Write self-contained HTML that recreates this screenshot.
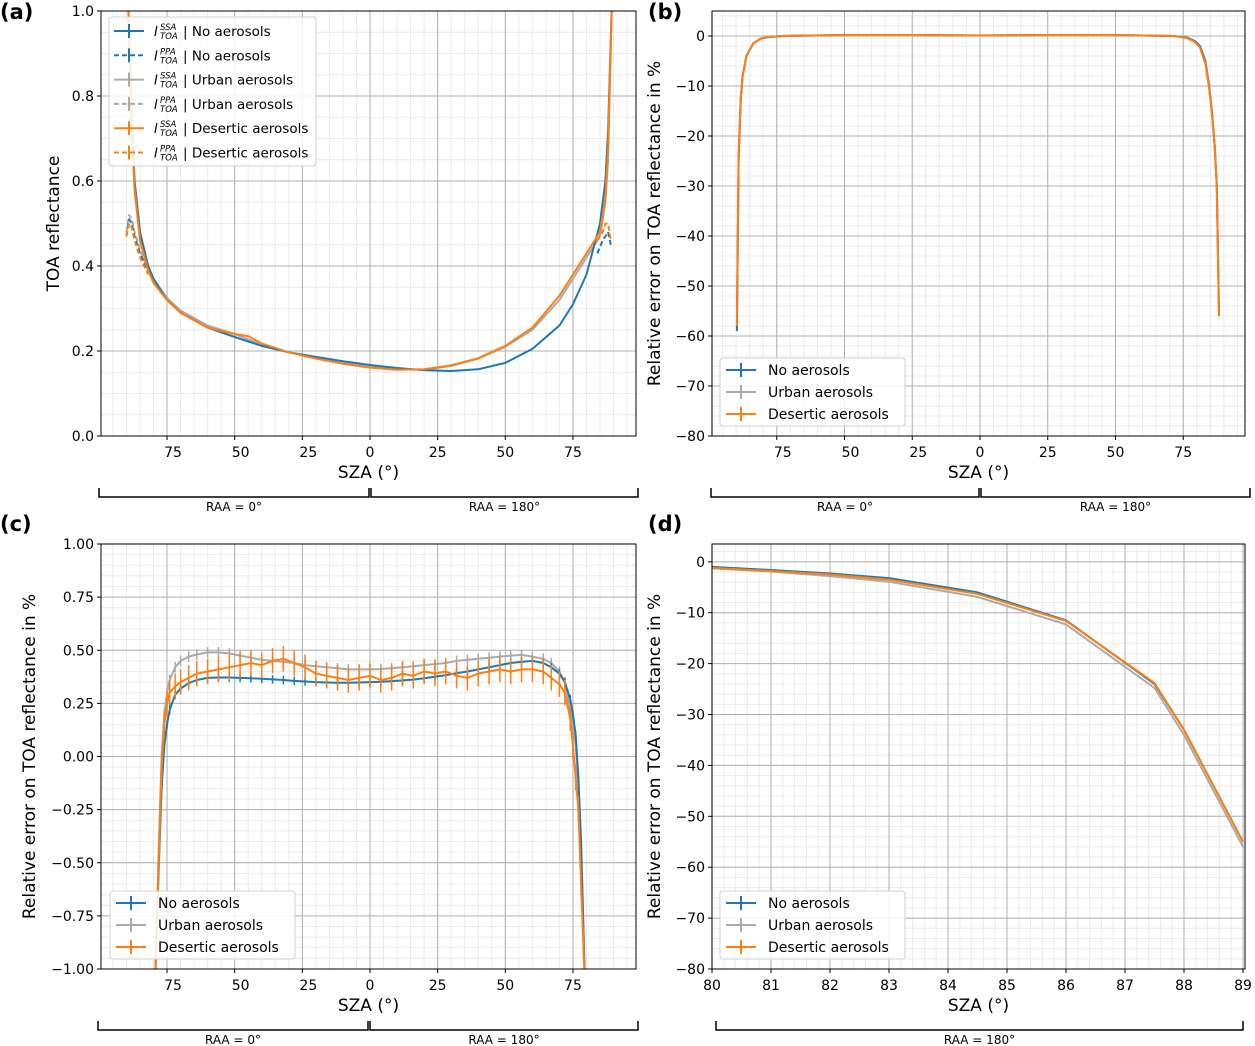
<!DOCTYPE html>
<html><head><meta charset="utf-8"><style>
html,body{margin:0;padding:0;background:#fff;}
svg{display:block;font-family:"DejaVu Sans","Liberation Sans",sans-serif;}
</style></head><body>
<svg id="fig" width="1255" height="1046" viewBox="0 0 1255 1046" xmlns="http://www.w3.org/2000/svg"></svg>
<script>
// ---------- data ----------
const aNoSsaX = [-89.5,-88,-87,-85,-82,-80,-75,-70,-60,-50,-40,-30,-20,-10,0,10,20,30,40,50,60,70,75,80,85,87,88,89.5];
const aNoSsaY = [1.05,0.75,0.6,0.48,0.4,0.37,0.32,0.29,0.255,0.233,0.212,0.197,0.186,0.176,0.167,0.16,0.155,0.153,0.157,0.172,0.205,0.26,0.31,0.38,0.5,0.6,0.72,1.05];
const aUrbSsaX = [-89.5,-88,-87,-85,-82,-80,-75,-70,-60,-50,-40,-30,-20,-10,0,10,20,30,40,50,60,70,75,80,85,87,88,89.5];
const aUrbSsaY = [1.05,0.72,0.58,0.47,0.4,0.37,0.325,0.295,0.26,0.24,0.215,0.197,0.183,0.171,0.162,0.157,0.156,0.165,0.182,0.21,0.25,0.32,0.37,0.42,0.47,0.55,0.65,1.05];
const aDesSsaX = [-89.5,-88,-87,-85,-82,-80,-75,-70,-60,-50,-45,-40,-30,-20,-10,0,10,20,30,40,50,60,70,75,80,85,87,88,89.5];
const aDesSsaY = [1.05,0.72,0.58,0.46,0.39,0.36,0.32,0.29,0.255,0.24,0.235,0.218,0.197,0.182,0.17,0.161,0.156,0.157,0.166,0.183,0.212,0.255,0.33,0.38,0.43,0.48,0.56,0.68,1.05];
const aNoPpaX = [-90,-89,-88,-87,-85,-82];
const aNoPpaY = [0.47,0.51,0.5,0.47,0.43,0.39];
const aNoPpaRX = [84,86,87,88,89];
const aNoPpaRY = [0.43,0.46,0.47,0.48,0.45];
const aUrbPpaX = [-90,-89,-88,-87,-85,-82];
const aUrbPpaY = [0.48,0.52,0.51,0.48,0.44,0.39];
const aDesPpaX = [-90,-89,-88,-87,-85,-82];
const aDesPpaY = [0.47,0.5,0.49,0.46,0.42,0.38];
const aDesPpaRX = [84,86,87,88,89];
const aDesPpaRY = [0.46,0.48,0.5,0.5,0.46];
// Panel (b)
const bX = [-89.7,-89.1,-88.3,-87.6,-86.2,-83.7,-80.8,-78,-73.1,-49.3,-25.2,-0.7,23.4,47.5,71.6,76.4,79.3,81.2,83.2,84.6,85.6,86.6,87.4,88.2];
const bNoY = [-59,-25,-13,-8,-4,-1.5,-0.5,-0.2,0,0.2,0.2,0.1,0.2,0.2,0,-0.3,-1,-2,-5,-10,-15,-22,-30,-56];
const bUrbY = [-58,-24,-12.5,-8,-4,-1.5,-0.5,-0.2,0,0.2,0.2,0.1,0.2,0.2,0,-0.4,-1.2,-2.3,-5.5,-10.5,-15.5,-22,-30,-56];
const bDesY = [-58,-24,-12.5,-8,-4,-1.5,-0.5,-0.2,0,0.2,0.2,0.1,0.2,0.2,0,-0.4,-1.2,-2.3,-5.5,-10.5,-15.5,-22,-30,-56];
// Panel (c)
const cX = [-79.5,-78,-77,-76,-75,-74,-72,-70,-67,-64,-60,-56,-52,-48,-44,-40,-36,-32,-28,-24,-20,-16,-12,-8,-4,0,4,8,12,16,20,24,28,32,36,40,44,48,52,56,60,64,67,70,72,74,75,76,77,78,79.5];
const cNoY = [-1.1,-0.5,-0.15,0.05,0.15,0.22,0.29,0.32,0.345,0.36,0.37,0.372,0.372,0.37,0.368,0.366,0.363,0.36,0.356,0.353,0.35,0.348,0.347,0.347,0.348,0.35,0.352,0.355,0.358,0.362,0.368,0.375,0.383,0.392,0.4,0.41,0.42,0.43,0.44,0.445,0.45,0.44,0.42,0.39,0.35,0.27,0.2,0.1,-0.1,-0.4,-1.1];
const cUrbY = [-1.1,-0.4,0.0,0.2,0.3,0.36,0.42,0.45,0.47,0.48,0.49,0.49,0.485,0.475,0.465,0.455,0.45,0.445,0.44,0.43,0.425,0.42,0.415,0.41,0.41,0.41,0.412,0.415,0.42,0.425,0.43,0.435,0.44,0.45,0.455,0.46,0.465,0.47,0.475,0.478,0.47,0.46,0.44,0.4,0.35,0.22,0.15,0.05,-0.15,-0.45,-1.1];
const cDesY = [-1.1,-0.45,-0.05,0.15,0.25,0.3,0.33,0.35,0.37,0.39,0.4,0.41,0.42,0.43,0.44,0.43,0.45,0.46,0.44,0.42,0.39,0.38,0.37,0.36,0.37,0.38,0.36,0.37,0.39,0.38,0.4,0.39,0.4,0.38,0.37,0.39,0.4,0.41,0.4,0.41,0.41,0.4,0.37,0.34,0.3,0.18,0.05,-0.1,-0.25,-0.6,-1.1];
const cNoErr = 0.02, cUrbErr = 0.025, cDesErr = 0.06;
// Panel (d)
const dX = [80,81,82,83,84.5,86,87.5,88,89];
const dNoY = [-1,-1.6,-2.3,-3.2,-6,-11.5,-24,-33,-55];
const dUrbY = [-1.3,-1.9,-2.8,-3.9,-6.9,-12.3,-24.8,-34,-56];
const dDesY = [-1.2,-1.8,-2.5,-3.5,-6.3,-11.6,-23.8,-33,-55];
// Ticks
const xTicksSym = [-75,-50,-25,0,25,50,75];
const aYTicks = [0,0.2,0.4,0.6,0.8,1.0];
const bYTicks = [0,-10,-20,-30,-40,-50,-60,-70,-80];
const cYTicks = [1,0.75,0.5,0.25,0,-0.25,-0.5,-0.75,-1];
const dXTicks = [80,81,82,83,84,85,86,87,88,89];
const legendNames = ["No aerosols","Urban aerosols","Desertic aerosols"];

// ---------- drawing ----------
const NS="http://www.w3.org/2000/svg", svg=document.getElementById('fig');
const BLUE="#1f77b4", GRAY="#aaaaaa", ORANGE="#ff7f0e";
function el(tag,attrs,parent){const e=document.createElementNS(NS,tag);for(const k in attrs)e.setAttribute(k,attrs[k]);(parent||svg).appendChild(e);return e;}
function txt(s,x,y,size,anchor,parent,extra){const t=el('text',Object.assign({x:x,y:y,'font-size':size,'text-anchor':anchor||'start',fill:'#000'},extra||{}),parent);t.textContent=s;return t;}
let clipId=0;
function makeAxes(name,L,R,T,B,xmin,xmax,ymin,ymax){
  const g=el('g',{});
  
  
  const sx=v=>L+(v-xmin)/(xmax-xmin)*(R-L), sy=v=>B-(v-ymin)/(ymax-ymin)*(B-T);
  const id='clip'+(clipId++);
  const cp=el('clipPath',{id:id},g); el('rect',{x:L,y:T,width:R-L,height:B-T},cp);
  const grid=el('g',{'clip-path':'url(#'+id+')'},g);
  const plot=el('g',{'clip-path':'url(#'+id+')'},g);
  return {g,sx,sy,L,R,T,B,grid,plot,xmin,xmax,ymin,ymax};
}
function grids(ax,xMinor,xMajor,yMinor,yMajor){
  for(let v=Math.ceil(ax.xmin/xMinor)*xMinor;v<=ax.xmax;v+=xMinor){el('line',{x1:ax.sx(v),x2:ax.sx(v),y1:ax.T,y2:ax.B,stroke:'#ebebeb','stroke-width':1},ax.grid);}
  for(let v=Math.ceil(ax.ymin/yMinor)*yMinor;v<=ax.ymax+1e-9;v+=yMinor){el('line',{y1:ax.sy(v),y2:ax.sy(v),x1:ax.L,x2:ax.R,stroke:'#ebebeb','stroke-width':1},ax.grid);}
  xMajor.forEach(v=>el('line',{x1:ax.sx(v),x2:ax.sx(v),y1:ax.T,y2:ax.B,stroke:'#b0b0b0','stroke-width':1},ax.grid));
  yMajor.forEach(v=>el('line',{y1:ax.sy(v),y2:ax.sy(v),x1:ax.L,x2:ax.R,stroke:'#b0b0b0','stroke-width':1},ax.grid));
}
function frame(ax){el('rect',{x:ax.L,y:ax.T,width:ax.R-ax.L,height:ax.B-ax.T,fill:'none',stroke:'#000','stroke-width':1},ax.g);}
function xticks(ax,vals,labels,negShift){vals.forEach((v,i)=>{const x=ax.sx(v);el('line',{x1:x,x2:x,y1:ax.B,y2:ax.B+4,stroke:'#000'},ax.g);const t=txt(labels[i],x+(negShift&&v<0?6:0),ax.B+21,14,'middle',ax.g);
  
  });}
function yticks(ax,vals,labels){vals.forEach((v,i)=>{const y=ax.sy(v);el('line',{x1:ax.L-4,x2:ax.L,y1:y,y2:y,stroke:'#000'},ax.g);const t=txt(labels[i],ax.L-7,y+5,14,'end',ax.g);
  
  });}
function line(ax,xs,ys,color,dash,name,w){const d=xs.map((x,i)=>(i?'L':'M')+ax.sx(x).toFixed(1)+','+ax.sy(ys[i]).toFixed(1)).join('');const p=el('path',{d:d,fill:'none',stroke:color,'stroke-width':w||2,'stroke-dasharray':dash||'none','stroke-linejoin':'round'},ax.plot);
  
  return p;}
function errbars(ax,xs,ys,err,color,name){xs.forEach((x,i)=>{const l=el('line',{x1:ax.sx(x),x2:ax.sx(x),y1:ax.sy(ys[i]-err),y2:ax.sy(ys[i]+err),stroke:color,'stroke-width':1.5},ax.plot);
  
  });}
function xlabel(ax,s){const t=txt(s,(ax.L+ax.R)/2,ax.B+42,17,'middle',ax.g);
  
  }
function ylabel(ax,s,x){const t=txt(s,0,0,17,'middle',ax.g,{transform:'translate('+x+','+((ax.T+ax.B)/2)+') rotate(-90)'});
  
  }
function panelLabel(s,x,y){const t=txt(s,x,y,21,'start',svg,{'font-weight':'bold'});
  
  }
function bracket(x1,x2,y,label,name){const g=el('g',{});
  
  
  el('path',{d:'M'+x1+','+(y-9)+'L'+x1+','+y+'L'+x2+','+y+'L'+x2+','+(y-9),fill:'none',stroke:'#000','stroke-width':1.5},g);
  txt(label,(x1+x2)/2,y+14,12,'middle',g);}
function simpleLegend(x,y,name){const g=el('g',{});
  
  
  el('rect',{x:x,y:y,width:185,height:68,rx:3,fill:'#fff','fill-opacity':0.85,stroke:'#d0d0d0'},g);
  [BLUE,GRAY,ORANGE].forEach((c,i)=>{const yy=y+12+i*22;const e=el('g',{},g);
    
    
    el('line',{x1:x+6,x2:x+36,y1:yy,y2:yy,stroke:c,'stroke-width':2},e);
    el('line',{x1:x+21,x2:x+21,y1:yy-7,y2:yy+7,stroke:c,'stroke-width':2},e);
    txt(legendNames[i],x+48,yy+5,14,'start',e);});}
const absLabels=xTicksSym.map(v=>String(Math.abs(v)));

// ---- Panel (a)
const A=makeAxes('panel-a-toa-reflectance',101,636,11,436,-99.4,98.3,0,1.0);
grids(A,5,xTicksSym,0.05,aYTicks);
line(A,aUrbSsaX,aUrbSsaY,GRAY,null,'urban-ssa-line');
line(A,aUrbPpaX,aUrbPpaY,GRAY,'5,3','urban-ppa-line');
line(A,aNoSsaX,aNoSsaY,BLUE,null,'no-aerosol-ssa-line');
line(A,aNoPpaX,aNoPpaY,BLUE,'5,3','no-aerosol-ppa-line');
line(A,aNoPpaRX,aNoPpaRY,BLUE,'5,3','no-aerosol-ppa-line-right');
line(A,aDesSsaX,aDesSsaY,ORANGE,null,'desertic-ssa-line');
line(A,aDesPpaX,aDesPpaY,ORANGE,'5,3','desertic-ppa-line');
line(A,aDesPpaRX,aDesPpaRY,ORANGE,'5,3','desertic-ppa-line-right');
frame(A);xticks(A,xTicksSym,absLabels,true);yticks(A,aYTicks,aYTicks.map(v=>v.toFixed(1)));
xlabel(A,'SZA (°)');ylabel(A,'TOA reflectance',59);
(function(){const x=109,y=17;const g=el('g',{});
  
  
  el('rect',{x:x,y:y,width:207,height:149,rx:3,fill:'#fff','fill-opacity':0.85,stroke:'#d0d0d0'},g);
  const cols=[BLUE,BLUE,GRAY,GRAY,ORANGE,ORANGE],sup=['SSA','PPA'],nm=[0,0,1,1,2,2];
  for(let i=0;i<6;i++){const yy=y+14+i*24.3;const e=el('g',{},g);
    
    
    el('line',{x1:x+5,x2:x+35,y1:yy,y2:yy,stroke:cols[i],'stroke-width':2,'stroke-dasharray':i%2?'5,3':'none'},e);
    el('line',{x1:x+20,x2:x+20,y1:yy-7,y2:yy+7,stroke:cols[i],'stroke-width':2},e);
    txt('I',x+45,yy+5,13,'start',e,{'font-style':'italic'});
    txt(sup[i%2],x+51,yy-1,8.5,'start',e,{'font-style':'italic'});
    txt('TOA',x+51,yy+8,8.5,'start',e,{'font-style':'italic'});
    txt('| '+legendNames[nm[i]],x+74,yy+5,13.5,'start',e);}
})();
bracket(99,369,497,'RAA = 0°','raa-0-bracket-a');bracket(371,638,497,'RAA = 180°','raa-180-bracket-a');

// ---- Panel (b)
const B=makeAxes('panel-b-relative-error',712,1245,11,436,-98.9,97.8,-80,5);
grids(B,5,xTicksSym,2,bYTicks);
line(B,bX,bUrbY,GRAY,null,'urban-line');
line(B,bX,bNoY,BLUE,null,'no-aerosol-line');
line(B,bX,bDesY,ORANGE,null,'desertic-line');
frame(B);xticks(B,xTicksSym,absLabels,true);yticks(B,bYTicks,bYTicks.map(v=>v<0?'−'+(-v):String(v)));
xlabel(B,'SZA (°)');ylabel(B,'Relative error on TOA reflectance in %',660);
simpleLegend(720,358,'legend-b');
bracket(711,979,497,'RAA = 0°','raa-0-bracket-b');bracket(981,1250,497,'RAA = 180°','raa-180-bracket-b');

// ---- Panel (c)
const C=makeAxes('panel-c-relative-error-zoom',101,636,544,969,-99.4,98.3,-1,1);
grids(C,5,xTicksSym,0.05,cYTicks);
line(C,cX,cUrbY,GRAY,null,'urban-line');errbars(C,cX,cUrbY,cUrbErr,GRAY,'urban-error-bar');
line(C,cX,cNoY,BLUE,null,'no-aerosol-line');errbars(C,cX,cNoY,cNoErr,BLUE,'no-aerosol-error-bar');
line(C,cX,cDesY,ORANGE,null,'desertic-line');errbars(C,cX,cDesY,cDesErr,ORANGE,'desertic-error-bar');
frame(C);xticks(C,xTicksSym,absLabels,true);yticks(C,cYTicks,cYTicks.map(v=>(v<0?'−':'')+Math.abs(v).toFixed(2)));
xlabel(C,'SZA (°)');ylabel(C,'Relative error on TOA reflectance in %',35);
simpleLegend(110,891,'legend-c');
bracket(98,368,1030,'RAA = 0°','raa-0-bracket-c');bracket(370,638,1030,'RAA = 180°','raa-180-bracket-c');

// ---- Panel (d)
const D=makeAxes('panel-d-relative-error-high-sza',712,1245,544,969,80,89.034,-80,3.5);
grids(D,0.2,dXTicks,2,bYTicks);
line(D,dX,dUrbY,GRAY,null,'urban-line');
line(D,dX,dNoY,BLUE,null,'no-aerosol-line');
line(D,dX,dDesY,ORANGE,null,'desertic-line');
frame(D);xticks(D,dXTicks,dXTicks.map(String),false);yticks(D,bYTicks,bYTicks.map(v=>v<0?'−'+(-v):String(v)));
xlabel(D,'SZA (°)');ylabel(D,'Relative error on TOA reflectance in %',660);
simpleLegend(720,891,'legend-d');
bracket(716,1243,1030,'RAA = 180°','raa-180-bracket-d');

panelLabel('(a)',0,19);panelLabel('(b)',648,19);panelLabel('(c)',0,531);panelLabel('(d)',648,531);
</script>
</body></html>
